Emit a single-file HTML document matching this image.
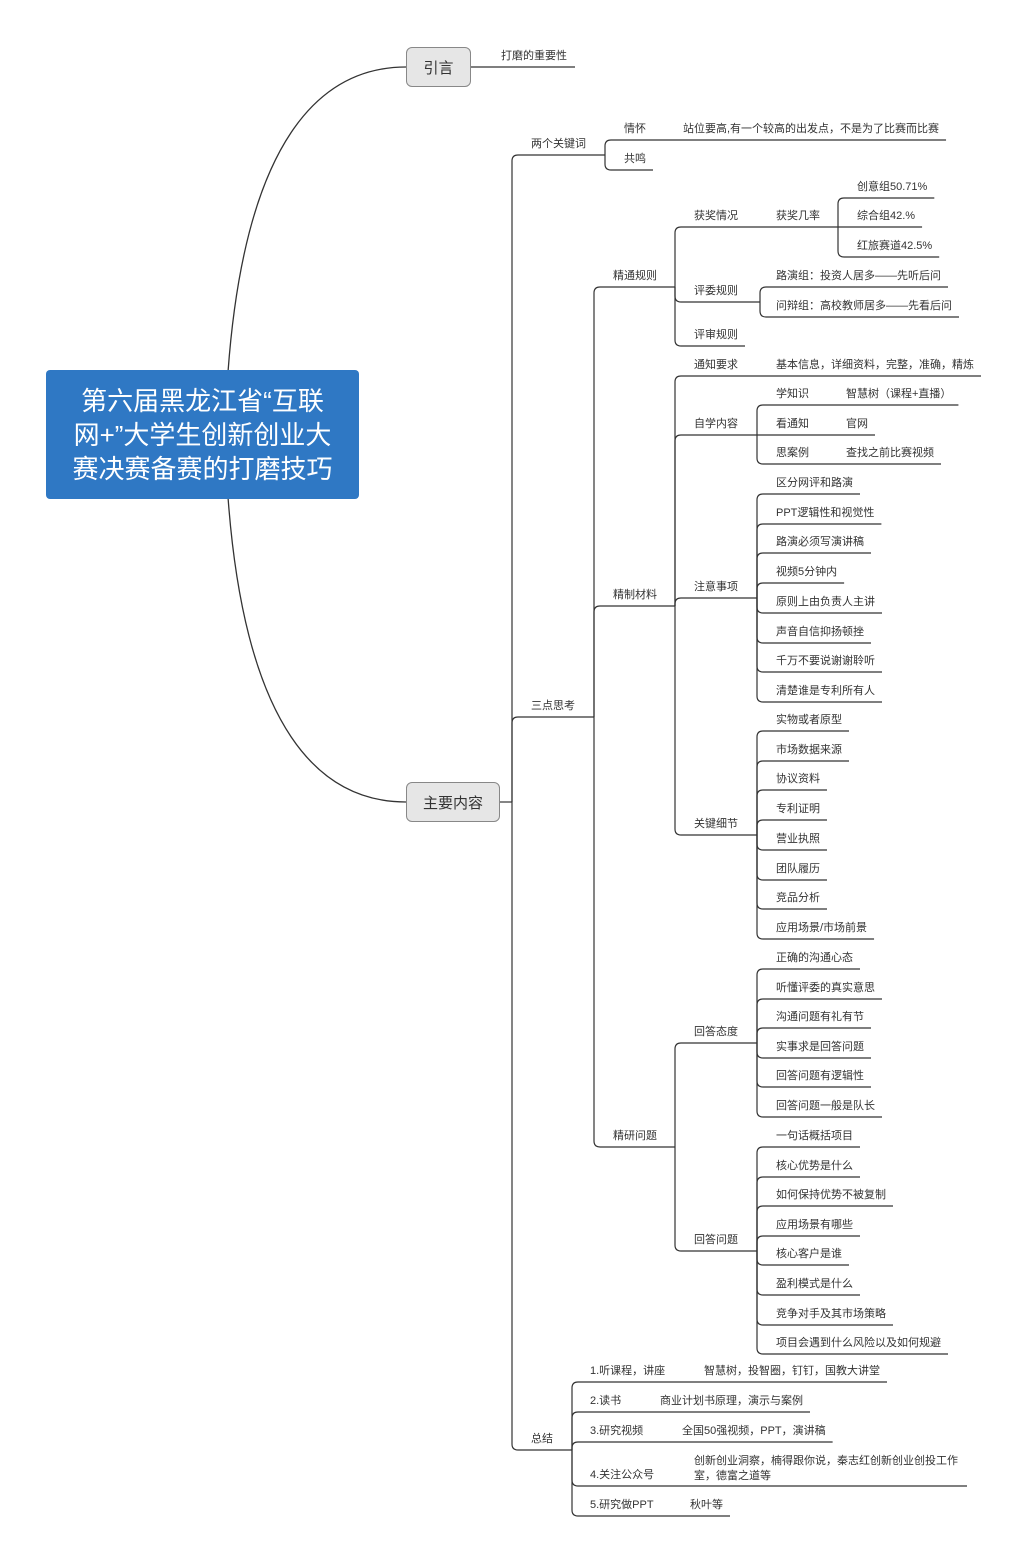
<!DOCTYPE html>
<html><head><meta charset="utf-8">
<style>
html,body{margin:0;padding:0;background:#fff;}
body{width:1029px;height:1563px;position:relative;overflow:hidden;font-family:"Liberation Sans","Noto Sans CJK SC",sans-serif;}
#root{position:absolute;left:46px;top:370px;width:313px;height:129px;background:#2f78c4;border-radius:4px;color:#fff;font-size:26px;line-height:34px;text-align:center;display:flex;align-items:center;justify-content:center;font-family:"Liberation Sans","Noto Sans CJK SC",sans-serif;}
.box{position:absolute;background:#e6e6e6;border:1px solid #888;border-radius:6px;font-size:15px;color:#333;display:flex;align-items:center;justify-content:center;box-sizing:border-box;}
svg{position:absolute;left:0;top:0;}
svg text{font-family:"Liberation Sans","Noto Sans CJK SC",sans-serif;font-size:11px;fill:#333;dominant-baseline:central;}
</style></head><body>
<svg id="s" width="1029" height="1563" viewBox="0 0 1029 1563">
<path d="M228,372 C245,140 320,67 406,67" fill="none" stroke="#333" stroke-width="1.3"/>
<path d="M228,497 C245,730 320,802 406,802" fill="none" stroke="#333" stroke-width="1.3"/>
<line x1="471" y1="67" x2="575" y2="67" stroke="#333" stroke-width="1.2"/>
<text x="501" y="56">打磨的重要性</text>
<line x1="500" y1="802" x2="512" y2="802" stroke="#333" stroke-width="1.2"/>
</svg>
<div id="root">第六届黑龙江省“互联<br>网+”大学生创新创业大<br>赛决赛备赛的打磨技巧</div>
<div class="box" style="left:406px;top:47px;width:65px;height:40px;">引言</div>
<div class="box" style="left:406px;top:782px;width:94px;height:40px;">主要内容</div>
<script>
const NS="http://www.w3.org/2000/svg";
const svg=document.getElementById('s');
const cv=document.createElement('canvas').getContext('2d');
cv.font='11px "Liberation Sans","Noto Sans CJK SC",sans-serif';
function mw(t){return cv.measureText(t).width;}
function el(n,a,txt){const e=document.createElementNS(NS,n);for(const k in a)e.setAttribute(k,a[k]);if(txt!==undefined)e.textContent=txt;svg.appendChild(e);return e;}
function line(x1,y,x2){el('line',{x1:x1,y1:y,x2:x2,y2:y,stroke:'#333','stroke-width':1.2});}
const R=6;
function conn(vx,py,cy){
  if(Math.abs(cy-py)<1)return false;
  const d=cy>py?1:-1;
  el('path',{d:`M${vx},${py} L${vx},${cy-d*R} Q${vx},${cy} ${vx+R},${cy}`,fill:'none',stroke:'#333','stroke-width':1.2});
  return true;
}
function N(t,x,y,vx,k,o){return Object.assign({t:t,x:x,y:y,vx:vx,k:k||[]},o||{});}
function draw(n,sx){
  const uy=n.uy!==undefined?n.uy:n.y+12;
  let te;
  if(n.lines){te=n.end;n.lines.forEach((l,i)=>el('text',{x:n.x,y:n.ly[i]+1},l));}
  else{te=n.x+mw(n.t)+7;el('text',{x:n.x,y:n.y+1},n.t);}
  const end=n.vx?n.vx:Math.max(te,sx+20);
  line(sx,uy,end);
  n.k.forEach(c=>{const cy=c.uy!==undefined?c.uy:c.y+12;const curved=conn(n.vx,uy,cy);draw(c,curved?n.vx+R:n.vx);});
}
function leaves(arr,x,y0,dy){return arr.map((t,i)=>N(t,x,Math.round(y0+i*dy)));}
const tree=[
 N('两个关键词',531,143,605,[
   N('情怀',624,128,675,[N('站位要高,有一个较高的出发点，不是为了比赛而比赛',683,128)]),
   N('共鸣',624,158)
 ]),
 N('三点思考',531,705,594,[
   N('精通规则',613,275,675,[
     N('获奖情况',694,215,757,[N('获奖几率',776,215,838,[
        N('创意组50.71%',857,186),N('综合组42.%',857,215),N('红旅赛道42.5%',857,245)])]),
     N('评委规则',694,290,760,[N('路演组：投资人居多——先听后问',776,275),N('问辩组：高校教师居多——先看后问',776,305)]),
     N('评审规则',694,334)
   ]),
   N('精制材料',613,594,675,[
     N('通知要求',694,364,757,[N('基本信息，详细资料，完整，准确，精炼',776,364)]),
     N('自学内容',694,423,757,[
       N('学知识',776,393,838,[N('智慧树（课程+直播）',846,393)]),
       N('看通知',776,423,838,[N('官网',846,423)]),
       N('思案例',776,452,838,[N('查找之前比赛视频',846,452)])
     ]),
     N('注意事项',694,586,757,leaves(['区分网评和路演','PPT逻辑性和视觉性','路演必须写演讲稿','视频5分钟内','原则上由负责人主讲','声音自信抑扬顿挫','千万不要说谢谢聆听','清楚谁是专利所有人'],776,482,29.7)),
     N('关键细节',694,823,757,leaves(['实物或者原型','市场数据来源','协议资料','专利证明','营业执照','团队履历','竞品分析','应用场景/市场前景'],776,719,29.7))
   ]),
   N('精研问题',613,1135,675,[
     N('回答态度',694,1031,757,leaves(['正确的沟通心态','听懂评委的真实意思','沟通问题有礼有节','实事求是回答问题','回答问题有逻辑性','回答问题一般是队长'],776,957,29.6)),
     N('回答问题',694,1239,757,leaves(['一句话概括项目','核心优势是什么','如何保持优势不被复制','应用场景有哪些','核心客户是谁','盈利模式是什么','竞争对手及其市场策略','项目会遇到什么风险以及如何规避'],776,1135,29.6))
   ])
 ]),
 N('总结',531,1438,572,[
   N('1.听课程，讲座',590,1370,697,[N('智慧树，投智圈，钉钉，国教大讲堂',704,1370)]),
   N('2.读书',590,1400,653,[N('商业计划书原理，演示与案例',660,1400)]),
   N('3.研究视频',590,1430,675,[N('全国50强视频，PPT，演讲稿',682,1430)]),
   N('4.关注公众号',590,1474,687,[N('',694,1474,0,[],{lines:['创新创业洞察，楠得跟你说，秦志红创新创业创投工作','室，德富之道等'],ly:[1460,1475],end:967,uy:1486})]),
   N('5.研究做PPT',590,1504,683,[N('秋叶等',690,1504)])
 ])
];
tree.forEach(c=>{const cy=c.y+12;const curved=conn(512,802,cy);draw(c,curved?512+R:512);});
</script>
</body></html>
